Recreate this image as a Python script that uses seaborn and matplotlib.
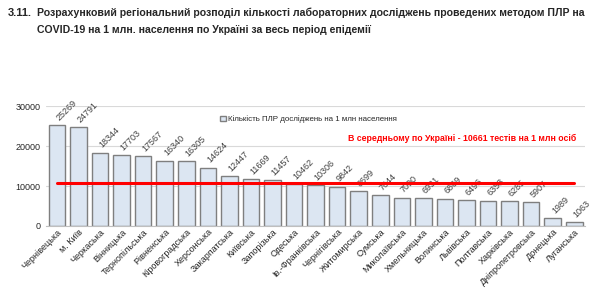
import pandas as pd
import numpy as np
import matplotlib
matplotlib.use("Agg")
import matplotlib.pyplot as plt
import seaborn as sns

regions = ['Чернівецька', 'м. Київ', 'Черкаська', 'Вінницька', 'Тернопільська',
           'Рівненська', 'Кіровоградська', 'Херсонська', 'Закарпатська', 'Київська',
           'Запорізька', 'Одеська', 'Ів.-Франківська', 'Чернігівська', 'Житомирська',
           'Сумська', 'Миколаївська', 'Хмельницька', 'Волинська', 'Львівська',
           'Полтавська', 'Харківська', 'Дніпропетровська', 'Донецька', 'Луганська']
tests = [25269, 24791, 18344, 17703, 17567, 16340, 16305, 14624, 12447, 11669,
         11457, 10462, 10306, 9842, 8699, 7644, 7090, 6931, 6869, 6496,
         6353, 6285, 5907, 1989, 1063]
average = 10661

sns.set_style("white")
plt.rcParams['font.family'] = ['Liberation Sans', 'DejaVu Sans']

data = pd.DataFrame({'region': regions, 'tests': tests})

fig = plt.figure(figsize=(6, 2.89), dpi=100)
ax = fig.add_axes([0.077, 0.218, 0.898, 0.415])

sns.barplot(data=data, x='region', y='tests', color='#dce6f2', edgecolor='#7f7f7f',
            linewidth=1, width=0.77, saturation=1, ax=ax,
            label='Кількість ПЛР досліджень на 1 млн населення')

ax.set_xlim(-0.5, len(regions) - 0.5)
ax.set_ylim(0, 30000)
ax.set_yticks([0, 10000, 20000, 30000])
ax.yaxis.grid(True, color='#d9d9d9', linewidth=0.8)
ax.set_axisbelow(True)
for s in ['top', 'right', 'left']:
    ax.spines[s].set_visible(False)
ax.spines['bottom'].set_color('#bfbfbf')
ax.tick_params(axis='y', labelsize=6.5, length=0, pad=4)
ax.tick_params(axis='x', labelsize=6.5, length=0, pad=1)
ax.set_xlabel('')
ax.set_ylabel('')
plt.setp(ax.get_xticklabels(), rotation=45, ha='right', rotation_mode='anchor')

for i, v in enumerate(tests):
    ax.annotate(str(v), (i, v), xytext=(-2, 2), textcoords='offset points',
                rotation=45, fontsize=6.5, ha='left', va='bottom', color='#404040')

# середнє значення
ax.plot([0, len(regions) - 1], [average, average], color='#ff0000', linewidth=2.2, zorder=5)
ax.text(0.772, 0.73, 'В середньому по Україні - 10661 тестів на 1 млн осіб',
        transform=ax.transAxes, color='#ff0000', fontsize=6.3, fontweight='bold',
        ha='center', va='center')

leg = ax.legend(loc='upper left', bbox_to_anchor=(0.31, 0.98), frameon=False,
                fontsize=5.7, handlelength=0.7, handleheight=0.7, handletextpad=0.3)

fig.text(0.013, 0.955, '3.11.', fontsize=8, fontweight='bold', va='center')
fig.text(0.062, 0.955, 'Розрахунковий регіональний розподіл кількості лабораторних досліджень проведених методом ПЛР на',
         fontsize=7.6, fontweight='bold', va='center')
fig.text(0.062, 0.895, 'COVID-19 на 1 млн. населення по Україні за весь період епідемії',
         fontsize=7.6, fontweight='bold', va='center')

fig.savefig('out.png', dpi=100)
